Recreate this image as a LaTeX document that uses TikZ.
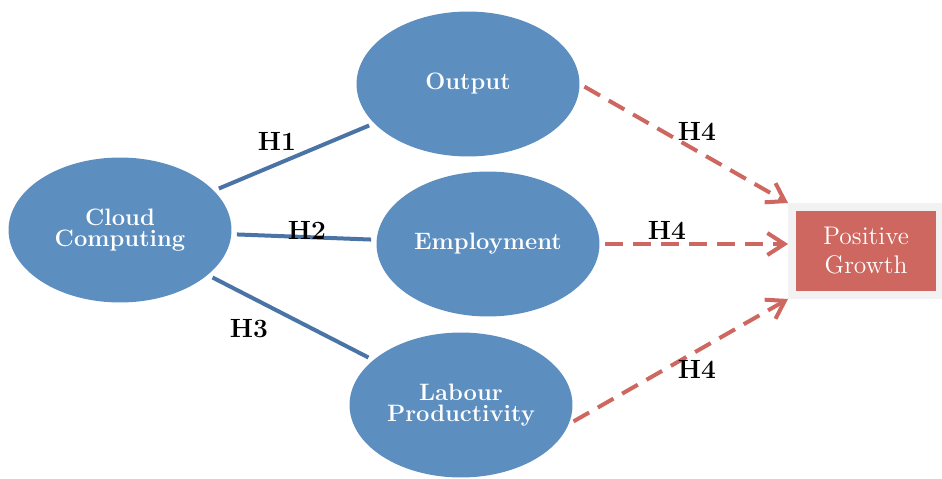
\documentclass[tikz,border=0pt]{standalone}
\usepackage{fontspec}
\usetikzlibrary{shapes.geometric,arrows.meta}

\definecolor{bubble}{RGB}{92,142,191}
\definecolor{link}{RGB}{74,116,166}
\definecolor{growth}{RGB}{205,103,96}
\definecolor{frame}{RGB}{242,242,242}

\begin{document}
\begin{tikzpicture} [x=0.02cm, y=-0.02cm,
    factor/.style = {ellipse, fill=bubble, text=white, inner sep=0pt,
        minimum width=4.46cm, minimum height=2.9cm, align=center,
        font=\fontsize{13.5}{12}\selectfont\bfseries\addfontfeature{LetterSpace=14}},
    hyp/.style = {font=\fontsize{15}{15}\selectfont\bfseries\addfontfeature{LetterSpace=8}},
    tie/.style = {draw=link, line width=0.08cm, shorten <=3pt, shorten >=3pt},
    effect/.style = {draw=growth, line width=0.08cm, dash pattern=on 0.36cm off 0.2cm,
        shorten <=3pt, -{Straight Barb[length=0.34cm,width=0.44cm]}}]

            \useasboundingbox (0,0) rectangle (942,479);

            \node[factor] (CC)  at (120, 230) {Cloud\\Computing};
            \node[factor] (OUT) at (468,  84) {Output};
            \node[factor] (EMP) at (488, 244) {Employment};
            \node[factor] (LP)  at (461, 405) {Labour\\Productivity};
            \node[fill=growth, draw=frame, line width=0.16cm, text=white,
                  minimum width=2.96cm, minimum height=1.76cm, align=center,
                  font=\fontsize{14.5}{16.5}\selectfont] (PG) at (866, 251) {Positive\\Growth};

            \draw[tie] (CC) -- (OUT);
            \draw[tie] (CC) -- (EMP);
            \draw[tie] (CC) -- (LP);

            \draw[effect] (OUT.east) -- (PG.north west);
            \draw[effect] (EMP.east) -- (EMP.east -| PG.west);
            \draw[effect] (LP.-10)   -- (PG.south west);

            \node[hyp] (h1)  at (277, 141) {H1};
            \node[hyp] (h2)  at (307, 230) {H2};
            \node[hyp] (h3)  at (249, 329) {H3};
            \node[hyp] (h4a) at (697, 131) {H4};
            \node[hyp] (h4b) at (667, 230) {H4};
            \node[hyp] (h4c) at (697, 369) {H4};
        \end{tikzpicture}
\end{document}
